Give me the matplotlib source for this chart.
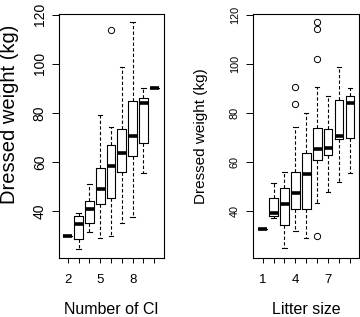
import matplotlib.pyplot as plt

plt.rcParams["font.family"] = ["Liberation Sans", "DejaVu Sans"]

# peso da carcaça por número de CL (2..10)
cl_levels = [2, 3, 4, 5, 6, 7, 8, 9, 10]
cl_whislo = [30.0, 24.8, 31.6, 29.2, 30.0, 35.4, 37.6, 55.4, 90.2]
cl_q1 = [30.0, 28.6, 35.3, 43.1, 45.4, 56.1, 62.7, 68.0, 90.2]
cl_med = [30.0, 35.0, 40.9, 48.9, 58.3, 63.7, 70.8, 84.1, 90.2]
cl_q3 = [30.0, 38.1, 44.1, 57.6, 67.1, 73.6, 84.9, 86.2, 90.2]
cl_whishi = [30.0, 39.2, 51.0, 79.1, 74.4, 98.8, 117.0, 90.0, 90.2]
cl_fliers = [[], [], [], [], [113.9], [], [], [], []]

# peso da carcaça por tamanho da leitegada (1..9)
litter_levels = [1, 2, 3, 4, 5, 6, 7, 8, 9]
litter_whislo = [32.8, 37.4, 24.9, 31.8, 29.3, 43.5, 48.0, 52.0, 55.6]
litter_q1 = [32.8, 38.2, 34.3, 40.9, 40.9, 61.0, 63.1, 69.4, 69.8]
litter_med = [32.8, 39.3, 43.0, 47.4, 55.0, 65.2, 65.7, 70.7, 84.0]
litter_q3 = [32.8, 45.4, 49.6, 56.0, 63.7, 74.0, 73.6, 85.1, 87.1]
litter_whishi = [32.8, 51.6, 55.8, 74.4, 80.1, 90.4, 87.1, 98.7, 90.1]
litter_fliers = [[], [], [], [83.5, 90.5], [], [30.0, 102.1, 114.0, 117.0], [], [], []]

y_ticks = [40, 60, 80, 100, 120]


def draw(ax, levels, whislo, q1, med, q3, whishi, fliers, xlabel,
         ytick_size, ylabel_size, ylabel_xy, ytick_pad):
    stats = []
    for i in range(len(levels)):
        stats.append(dict(med=med[i], q1=q1[i], q3=q3[i],
                          whislo=whislo[i], whishi=whishi[i], fliers=fliers[i]))
    ax.bxp(stats, positions=range(1, len(levels) + 1), widths=0.8,
           boxprops=dict(color="black", lw=0.8),
           whiskerprops=dict(color="black", lw=0.8, linestyle=(0, (3, 2))),
           capprops=dict(color="black", lw=0.8),
           medianprops=dict(color="black", lw=2.6, solid_capstyle="butt"),
           flierprops=dict(marker="o", mfc="none", mec="black", ms=4.5, mew=0.7))

    ax.set_xlim(0.14, len(levels) + 0.86)
    ax.set_ylim(21, 120.3)
    ax.set_xticks(range(1, len(levels) + 1))
    ax.set_xticklabels([str(v) if i % 3 == 0 else "" for i, v in enumerate(levels)],
                       fontsize=9.5)
    ax.set_yticks(y_ticks)
    ax.set_yticklabels([str(v) for v in y_ticks], fontsize=ytick_size,
                       rotation=90, va="center")
    ax.tick_params(axis="x", length=3.6, width=0.7, pad=7.8)
    ax.tick_params(axis="y", length=4.8, width=0.7, pad=ytick_pad)
    for s in ax.spines.values():
        s.set_linewidth(0.8)

    ax.set_xlabel(xlabel, fontsize=11.5)
    ax.xaxis.set_label_coords(0.5, -0.18)
    ax.set_ylabel("Dressed weight (kg)", fontsize=ylabel_size)
    ax.yaxis.set_label_coords(*ylabel_xy)


fig = plt.figure(figsize=(3.6, 3.17), dpi=100)
ax1 = fig.add_axes([58.5 / 360, 59 / 317, 105 / 360, 244 / 317])
ax2 = fig.add_axes([253.3 / 360, 59 / 317, 106 / 360, 244 / 317])

draw(ax1, cl_levels, cl_whislo, cl_q1, cl_med, cl_q3, cl_whishi, cl_fliers,
     "Number of Cl", 10, 14.5, (-0.372, 0.588), 3.6)
draw(ax2, litter_levels, litter_whislo, litter_q1, litter_med, litter_q3,
     litter_whishi, litter_fliers, "Litter size", 7.8, 11, (-0.424, 0.5), 5)

fig.savefig("out.png", dpi=100)
